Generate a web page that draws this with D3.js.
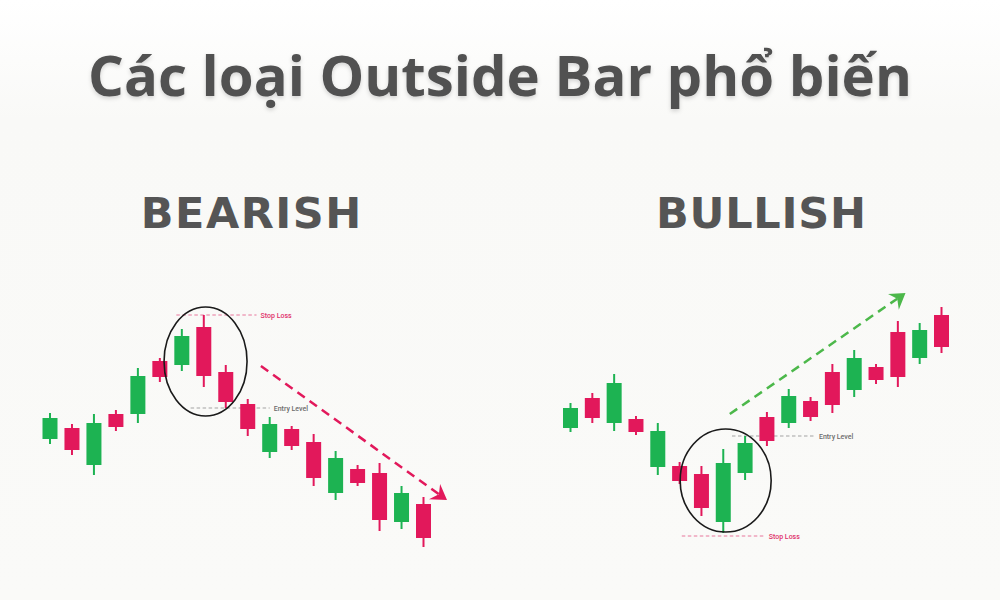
<!DOCTYPE html>
<html>
<head>
<meta charset="utf-8">
<script src="https://cdn.jsdelivr.net/npm/d3@7"></script>
<style>
  html, body { margin: 0; padding: 0; background: #fafaf8; }
  svg { display: block; }
</style>
</head>
<body>
<div id="chart"></div>
<script>
// candle values (price units, higher = up)
const bearOpen  = [161, 172, 135, 186, 186, 239, 235, 273, 228, 196, 148, 171, 158, 107, 131, 127,  78,  96];
const bearHigh  = [187, 176, 186, 190, 232, 242, 271, 285, 235, 201, 183, 174, 166, 149, 135, 137, 114, 103];
const bearLow   = [156, 145, 125, 169, 177, 218, 229, 213, 192, 164, 142, 150, 114, 100, 114,  69,  71,  53];
const bearClose = [182, 150, 177, 173, 224, 223, 264, 224, 198, 171, 176, 154, 122, 142, 117,  80, 107,  62];

const bullOpen  = [172, 202, 177, 181, 133, 134, 126,  78, 127, 183, 177, 199, 228, 210, 233, 268, 242, 285];
const bullHigh  = [197, 207, 226, 184, 177, 138, 134, 151, 164, 188, 211, 203, 236, 250, 236, 279, 277, 293];
const bullLow   = [168, 177, 169, 165, 125, 116,  84,  67, 120, 154, 172, 179, 187, 203, 216, 213, 236, 247];
const bullClose = [192, 182, 217, 168, 169, 119,  92, 137, 157, 159, 204, 183, 195, 242, 220, 223, 270, 253];

const titles = ["BEARISH", "BULLISH"];
const levelLabels = ["Stop Loss", "Entry Level"];

// levels: [price, from slot, to slot]
const bearStop  = [285, 5.75, 9.4];
const bearEntry = [192, 6.4, 10.0];
const bullStop  = [64, 5.1, 8.9];
const bullEntry = [164, 7.4, 11.2];

// trend arrows: [slot0, price0, slot1, price1]
const bearArrow = [9.6, 234, 18.07, 100];
const bullArrow = [7.3, 186, 15.35, 307];

// ellipse centre around the outside bar: [slot, price]
const bearRing = [7.08, 238.5];
const bullRing = [7.11, 119.5];

const W = 1000, H = 600;
const green = "#1db352", red = "#e2185b";

const svg = d3.select("#chart").append("svg")
  .attr("width", W).attr("height", H)
  .attr("viewBox", `0 0 ${W} ${H}`);

const defs = svg.append("defs");
const grad = defs.append("linearGradient").attr("id", "bg")
  .attr("x1", 0).attr("y1", 0).attr("x2", 0).attr("y2", 1);
grad.append("stop").attr("offset", "0%").attr("stop-color", "#ffffff");
grad.append("stop").attr("offset", "20%").attr("stop-color", "#f9f9f7");
grad.append("stop").attr("offset", "100%").attr("stop-color", "#fafaf8");

const shadow = defs.append("filter").attr("id", "shadow")
  .attr("x", "-5%").attr("y", "-20%").attr("width", "110%").attr("height", "150%");
shadow.append("feDropShadow").attr("dx", 0).attr("dy", 2).attr("stdDeviation", 2)
  .attr("flood-color", "#000").attr("flood-opacity", 0.16);

svg.append("rect").attr("width", W).attr("height", H).attr("fill", "url(#bg)");

// main title
const title = svg.append("text")
  .attr("x", W / 2).attr("y", 96)
  .attr("text-anchor", "middle")
  .attr("font-family", "'Open Sans', Lato, sans-serif")
  .attr("font-weight", 700)
  .attr("font-size", 48)
  .attr("fill", "#515151")
  .attr("filter", "url(#shadow)")
  .text("Các loại Outside Bar phổ biến");
// fit to the width of the original lettering
const tw = title.node().getComputedTextLength();
title.attr("font-size", 48 * 824 / tw);

const y = d3.scaleLinear().domain([50, 300]).range([550, 300]);

function drawPanel(cfg) {
  const x = d3.scaleLinear().domain([0, 17]).range(cfg.range);
  const g = svg.append("g");

  const candles = cfg.open.map((o, i) => ({
    i, open: o, high: cfg.high[i], low: cfg.low[i], close: cfg.close[i]
  }));

  const head = g.append("text")
    .attr("x", cfg.titleX).attr("y", 228)
    .attr("text-anchor", "middle")
    .attr("font-family", "'DejaVu Sans', sans-serif")
    .attr("font-weight", 700)
    .attr("font-size", 43)
    .attr("fill", "#555555")
    .text(cfg.title);
  // spread letters to the width of the original heading
  const hw = head.node().getComputedTextLength();
  const ls = (cfg.titleW - hw) / cfg.title.length;
  head.attr("letter-spacing", ls).attr("x", cfg.titleX + ls / 2);

  // levels
  const levels = [
    {v: cfg.stop, label: levelLabels[0], color: "#e8769c", text: "#e0306a"},
    {v: cfg.entry, label: levelLabels[1], color: "#a3a3a3", text: "#6d6d6d"}
  ];
  levels.forEach(l => {
    g.append("line")
      .attr("x1", x(l.v[1])).attr("x2", x(l.v[2]))
      .attr("y1", y(l.v[0])).attr("y2", y(l.v[0]))
      .attr("stroke", l.color).attr("stroke-width", 1)
      .attr("stroke-dasharray", "3.5,2.5");
    g.append("text")
      .attr("x", x(l.v[2]) + 4).attr("y", y(l.v[0]) + 2.5)
      .attr("font-family", "Roboto, sans-serif")
      .attr("font-weight", 500)
      .attr("font-size", 7)
      .attr("fill", l.text)
      .text(l.label);
  });

  // wicks
  g.selectAll(".wick").data(candles).enter().append("line")
    .attr("x1", d => x(d.i)).attr("x2", d => x(d.i))
    .attr("y1", d => y(d.high)).attr("y2", d => y(d.low))
    .attr("stroke", d => d.close > d.open ? green : red)
    .attr("stroke-width", 2);

  // bodies
  const bw = 15;
  g.selectAll(".body").data(candles).enter().append("rect")
    .attr("x", d => x(d.i) - bw / 2)
    .attr("width", bw)
    .attr("y", d => y(Math.max(d.open, d.close)))
    .attr("height", d => Math.abs(y(d.open) - y(d.close)))
    .attr("fill", d => d.close > d.open ? green : red);

  // ring around the outside bar
  g.append("ellipse")
    .attr("cx", x(cfg.ring[0])).attr("cy", y(cfg.ring[1]))
    .attr("rx", cfg.rx).attr("ry", cfg.ry)
    .attr("fill", "none").attr("stroke", "#1a1a1a").attr("stroke-width", 1.6);

  // dashed trend arrow
  const a = cfg.arrow;
  const x0 = x(a[0]), y0 = y(a[1]), x1 = x(a[2]), y1 = y(a[3]);
  const ang = Math.atan2(y1 - y0, x1 - x0);
  g.append("line")
    .attr("x1", x0).attr("y1", y0)
    .attr("x2", x1 - 10 * Math.cos(ang)).attr("y2", y1 - 10 * Math.sin(ang))
    .attr("stroke", cfg.arrowColor).attr("stroke-width", 2.5)
    .attr("stroke-dasharray", "9,6");
  g.append("path")
    .attr("d", "M0,0 L-15,-9 L-10,0 L-15,10 Z")
    .attr("transform", `translate(${x1},${y1}) rotate(${ang * 180 / Math.PI})`)
    .attr("fill", cfg.arrowColor);
}

drawPanel({
  title: titles[0], titleX: 251, titleW: 222, range: [50, 423.5],
  open: bearOpen, high: bearHigh, low: bearLow, close: bearClose,
  stop: bearStop, entry: bearEntry, ring: bearRing, rx: 41.5, ry: 54.5,
  arrow: bearArrow, arrowColor: "#e2185b"
});

drawPanel({
  title: titles[1], titleX: 761, titleW: 211, range: [570.5, 941.5],
  open: bullOpen, high: bullHigh, low: bullLow, close: bullClose,
  stop: bullStop, entry: bullEntry, ring: bullRing, rx: 45.5, ry: 51.5,
  arrow: bullArrow, arrowColor: "#4cb84a"
});
</script>
</body>
</html>
